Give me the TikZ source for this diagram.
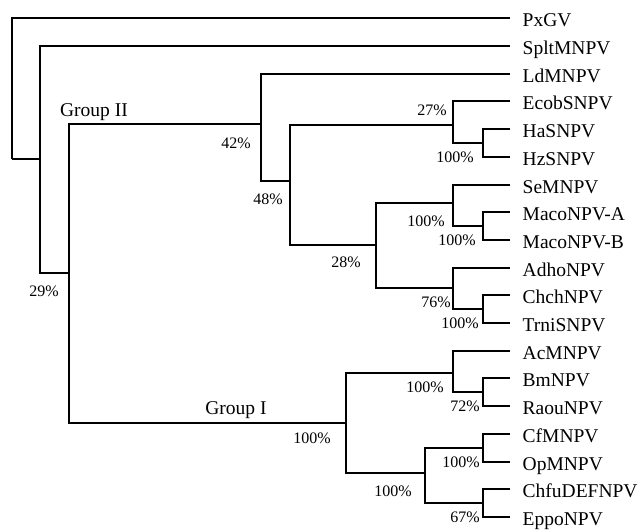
\documentclass[tikz,border=0pt]{standalone}
\usepackage{fontspec}
\setmainfont{Liberation Serif}
\begin{document}
\begin{tikzpicture}[x=1pt,y=-1pt,
  branch/.style={line width=1.6pt},
  leaf/.style={anchor=base west, inner sep=0pt, xshift=12.5pt, yshift=-8.5pt,
    font=\fontsize{19.5}{22}\selectfont},
  pct/.style={inner sep=0pt, font=\fontsize{16}{18}\selectfont},
  grp/.style={inner sep=0pt, anchor=base, font=\fontsize{19.5}{22}\selectfont}]
\useasboundingbox (0,0) rectangle (638,532);
% leaf ends
\coordinate (l1) at (510,18);
\coordinate (l2) at (510,46);
\coordinate (l3) at (510,74);
\coordinate (l4) at (510,101);
\coordinate (l5) at (510,129);
\coordinate (l6) at (510,157);
\coordinate (l7) at (510,185);
\coordinate (l8) at (510,212);
\coordinate (l9) at (510,240);
\coordinate (l10) at (510,268);
\coordinate (l11) at (510,295);
\coordinate (l12) at (510,323);
\coordinate (l13) at (510,351);
\coordinate (l14) at (510,378);
\coordinate (l15) at (510,406);
\coordinate (l16) at (510,434);
\coordinate (l17) at (510,462);
\coordinate (l18) at (510,489);
\coordinate (l19) at (510,517);
% leaf labels
\node[leaf] (t1) at (l1) {PxGV};
\node[leaf] (t2) at (l2) {SpltMNPV};
\node[leaf] (t3) at (l3) {LdMNPV};
\node[leaf] (t4) at (l4) {EcobSNPV};
\node[leaf] (t5) at (l5) {HaSNPV};
\node[leaf] (t6) at (l6) {HzSNPV};
\node[leaf] (t7) at (l7) {SeMNPV};
\node[leaf] (t8) at (l8) {MacoNPV-A};
\node[leaf] (t9) at (l9) {MacoNPV-B};
\node[leaf] (t10) at (l10) {AdhoNPV};
\node[leaf] (t11) at (l11) {ChchNPV};
\node[leaf] (t12) at (l12) {TrniSNPV};
\node[leaf] (t13) at (l13) {AcMNPV};
\node[leaf] (t14) at (l14) {BmNPV};
\node[leaf] (t15) at (l15) {RaouNPV};
\node[leaf] (t16) at (l16) {CfMNPV};
\node[leaf] (t17) at (l17) {OpMNPV};
\node[leaf] (t18) at (l18) {ChfuDEFNPV};
\node[leaf] (t19) at (l19) {EppoNPV};
% internal nodes
\coordinate (root) at (12,159);
\coordinate (A) at (40,159);
\coordinate (B) at (69,273);
\coordinate (C) at (261,124);
\coordinate (D) at (290,181);
\coordinate (E) at (453,125);
\coordinate (F) at (483,143);
\coordinate (G) at (376,245);
\coordinate (H) at (453,203);
\coordinate (I) at (483,226);
\coordinate (J) at (453,288);
\coordinate (K) at (483,309);
\coordinate (L) at (346,423);
\coordinate (M) at (453,373);
\coordinate (N) at (483,392);
\coordinate (O) at (425,473);
\coordinate (P) at (483,448);
\coordinate (Q) at (483,503);
% branches
\begin{scope}[branch]
\draw (l1) -| (root);
\draw (A) -| (root);
\draw (l2) -| (A);
\draw (B) -| (A);
\draw (C) -| (B);
\draw (L) -| (B);
\draw (l3) -| (C);
\draw (D) -| (C);
\draw (E) -| (D);
\draw (G) -| (D);
\draw (l4) -| (E);
\draw (F) -| (E);
\draw (l5) -| (F);
\draw (l6) -| (F);
\draw (H) -| (G);
\draw (J) -| (G);
\draw (l7) -| (H);
\draw (I) -| (H);
\draw (l8) -| (I);
\draw (l9) -| (I);
\draw (l10) -| (J);
\draw (K) -| (J);
\draw (l11) -| (K);
\draw (l12) -| (K);
\draw (M) -| (L);
\draw (O) -| (L);
\draw (l13) -| (M);
\draw (N) -| (M);
\draw (l14) -| (N);
\draw (l15) -| (N);
\draw (P) -| (O);
\draw (Q) -| (O);
\draw (l16) -| (P);
\draw (l17) -| (P);
\draw (l18) -| (Q);
\draw (l19) -| (Q);
\end{scope}
% support values
\node[pct] (pA) at (44,291) {29\%};
\node[pct] (pC) at (236,143) {42\%};
\node[pct] (pD) at (268,199) {48\%};
\node[pct] (pE) at (432,110) {27\%};
\node[pct, anchor=east] (pF) at (474,157) {100\%};
\node[pct] (pG) at (346,262) {28\%};
\node[pct] (pH) at (426,221) {100\%};
\node[pct, anchor=east] (pI) at (476,240) {100\%};
\node[pct] (pJ) at (436,302) {76\%};
\node[pct, anchor=east] (pK) at (479,323) {100\%};
\node[pct] (pL) at (312,438) {100\%};
\node[pct] (pM) at (425,387) {100\%};
\node[pct, anchor=east] (pN) at (480,406) {72\%};
\node[pct] (pO) at (393,491) {100\%};
\node[pct, anchor=east] (pP) at (480,462) {100\%};
\node[pct, anchor=east] (pQ) at (480,517) {67\%};
% group labels
\node[grp] (g2) at (94,116.5) {Group II};
\node[grp] (g1) at (236,414) {Group I};
\end{tikzpicture}
\end{document}
